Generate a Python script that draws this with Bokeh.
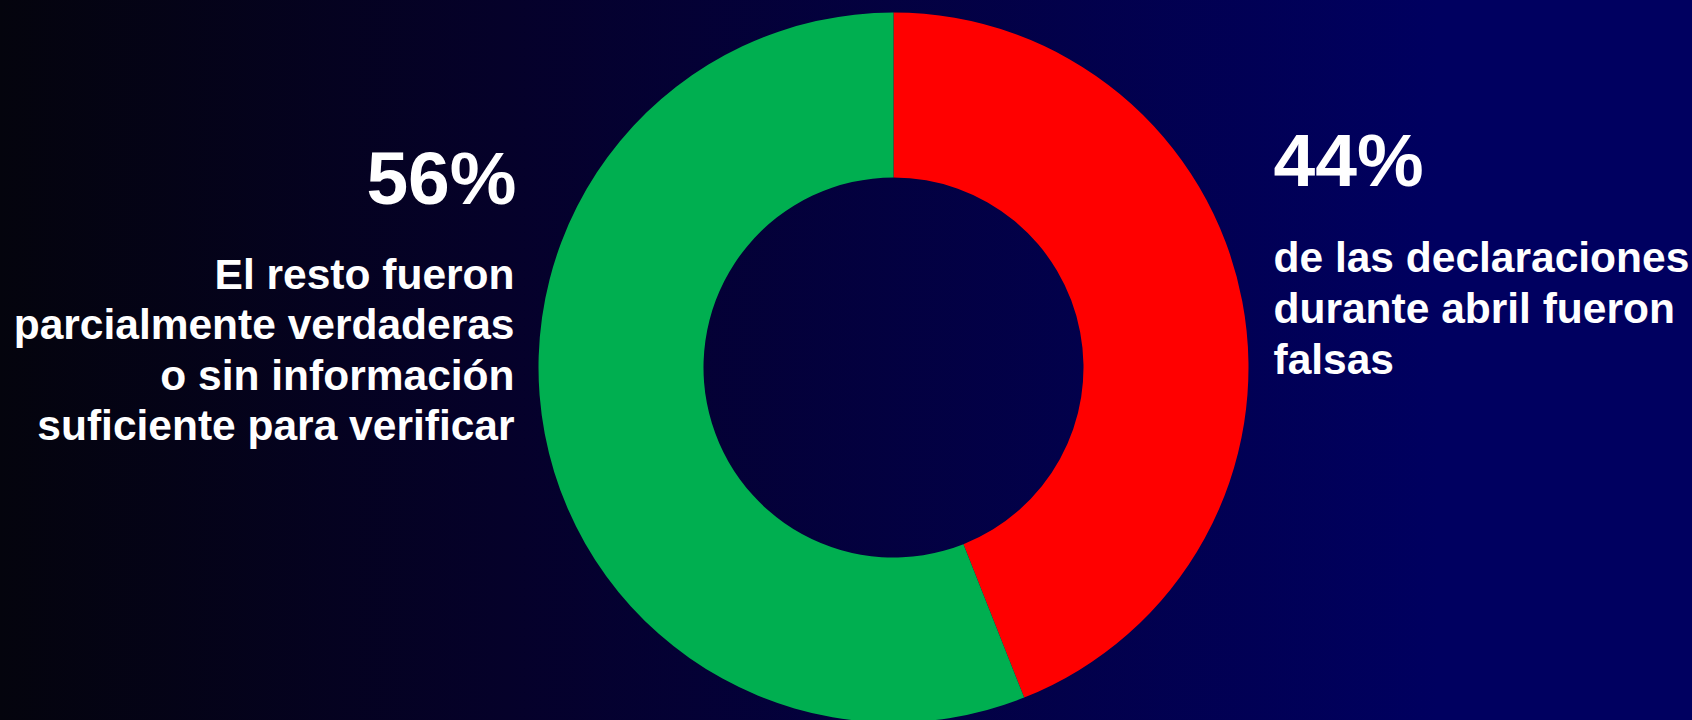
from math import pi
from bokeh.plotting import figure
from bokeh.models import Range1d, ColumnDataSource
from bokeh.core.properties import value
from bokeh.embed import file_html
from bokeh.resources import INLINE

# ---- data ----
categories = ["Falsas", "Parcialmente verdaderas / sin información"]
shares = [44, 56]
colors = ["#FF0000", "#00AF50"]
pct_labels = ["44%", "56%"]
right_lines = ["de las declaraciones", "durante abril fueron", "falsas"]
left_lines = ["El resto fueron", "parcialmente verdaderas", "o sin información",
              "suficiente para verificar"]

W, H = 1692, 720
p = figure(width=W, height=H, output_backend="svg", toolbar_location=None,
           x_range=Range1d(0, W), y_range=Range1d(0, H),
           min_border=0, outline_line_color=None,
           styles={"background": "linear-gradient(to right, #04040d 0%, #05012a 30%, #000060 85%, #000060 100%)"})
p.background_fill_alpha = 0
p.border_fill_alpha = 0
p.axis.visible = False
p.grid.visible = False

# donut: starts at 12 o'clock, clockwise
total = sum(shares)
starts, ends = [], []
acc = 0.0
for s in shares:
    a0 = pi / 2 - 2 * pi * acc / total
    acc += s
    a1 = pi / 2 - 2 * pi * acc / total
    starts.append(a1)
    ends.append(a0)
src = ColumnDataSource(dict(cat=categories, share=shares, color=colors,
                            start=starts, end=ends))
cx, cy = 893, 353
p.annular_wedge(x=cx, y=cy, inner_radius=190, outer_radius=355,
                start_angle="start", end_angle="end", fill_color="color",
                line_color=None, source=src)

font = value("Liberation Sans")

# right side (44%)
p.text(x=[1273], y=[561], text=[pct_labels[0]], text_font=font,
       text_font_size="75px", text_font_style="bold", text_color="white",
       text_align="left", text_baseline="alphabetic")
p.text(x=[1273] * len(right_lines), y=[463 - 51 * i for i in range(len(right_lines))],
       text=right_lines, text_font=font, text_font_size="42.5px",
       text_font_style="bold", text_color="white",
       text_align="left", text_baseline="alphabetic")

# left side (56%)
p.text(x=[516], y=[543], text=[pct_labels[1]], text_font=font,
       text_font_size="75px", text_font_style="bold", text_color="white",
       text_align="right", text_baseline="alphabetic")
p.text(x=[514] * len(left_lines), y=[446 - 50.4 * i for i in range(len(left_lines))],
       text=left_lines, text_font=font, text_font_size="42.5px",
       text_font_style="bold", text_color="white",
       text_align="right", text_baseline="alphabetic")

open("out.html", "w").write(file_html(p, INLINE))
